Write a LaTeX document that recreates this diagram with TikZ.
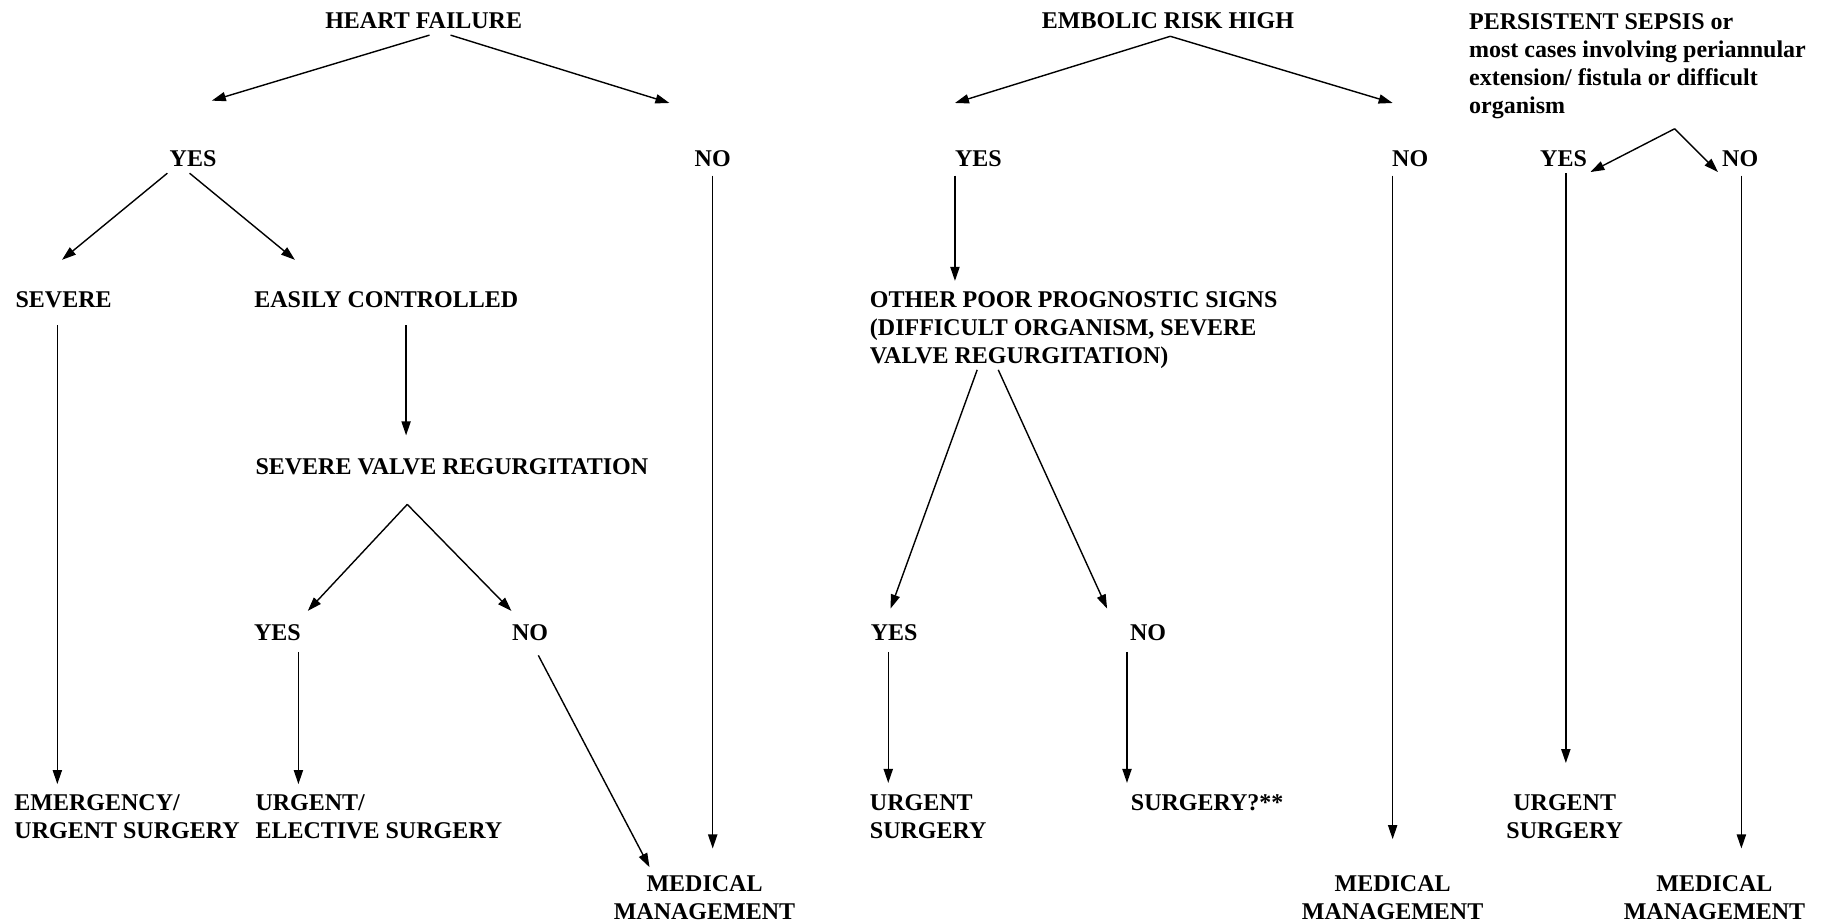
\documentclass[tikz,border=0pt]{standalone}
\usepackage{fontspec}
\setmainfont{Liberation Serif}
\usepackage{tikz}
\usetikzlibrary{
  positioning,
  arrows.meta
}

\tikzset{
  lbl/.style={inner sep=0pt, font=\bfseries\fontsize{12}{14}\selectfont},
  lblL/.style={lbl, anchor=west},
  lblT/.style={lbl, anchor=north west, align=left},
  lblC/.style={lbl, anchor=north, align=center},
  arr/.style={-{Triangle[length=7pt,width=4.6pt]}, line width=0.7pt}
}

\begin{document}
\begin{tikzpicture}[x=0.585pt,y=-0.585pt]
  \useasboundingbox (0,0) rectangle (1568,789);

  % heart failure
  \node[lbl]  (hf)     at (362,18)  {HEART FAILURE};
  \node[lbl]  (hfyes)  at (165,136) {YES};
  \node[lbl]  (hfno)   at (609,136) {NO};
  \node[lblL] (severe) at (13,256)  {SEVERE};
  \node[lblL] (easy)   at (217,256) {EASILY CONTROLLED};
  \node[lblL] (svr)    at (218,399) {SEVERE VALVE REGURGITATION};
  \node[lbl]  (svryes) at (237,541) {YES};
  \node[lbl]  (svrno)  at (453,541) {NO};
  \node[lblT] (emerg)  at (12,679)  {EMERGENCY/\\URGENT SURGERY};
  \node[lblT] (elect)  at (218,679) {URGENT/\\ELECTIVE SURGERY};
  \node[lblC] (med1)   at (602,748) {MEDICAL\\MANAGEMENT};

  % embolic risk
  \node[lbl]  (emb)    at (998,18)   {EMBOLIC RISK HIGH};
  \node[lbl]  (embyes) at (836,136)  {YES};
  \node[lbl]  (embno)  at (1205,136) {NO};
  \node[lblT] (poor)   at (743,249)  {OTHER POOR PROGNOSTIC SIGNS\\(DIFFICULT ORGANISM, SEVERE\\VALVE REGURGITATION)};
  \node[lbl]  (poyes)  at (764,541)  {YES};
  \node[lbl]  (pono)   at (981,541)  {NO};
  \node[lblT] (urg1)   at (743,679)  {URGENT\\SURGERY};
  \node[lblL] (surgq)  at (966,686)  {SURGERY?**};
  \node[lblC] (med2)   at (1190,748) {MEDICAL\\MANAGEMENT};

  % sepsis
  \node[lblT] (sep)    at (1255,11)  {PERSISTENT SEPSIS or\\most cases involving periannular\\extension/ fistula or difficult\\organism};
  \node[lbl]  (sepyes) at (1336,136) {YES};
  \node[lbl]  (sepno)  at (1487,136) {NO};
  \node[lblC] (urg2)   at (1337,679) {URGENT\\SURGERY};
  \node[lblC] (med3)   at (1465,748) {MEDICAL\\MANAGEMENT};

  % arrow ends
  \coordinate (hf-a) at (367,30);      \coordinate (hfyes-t) at (181,86);
  \coordinate (hf-b) at (385,30);      \coordinate (hfno-t) at (572,88);
  \coordinate (hfyes-a) at (143,148);  \coordinate (severe-t) at (53,222);
  \coordinate (hfyes-b) at (162,148);  \coordinate (easy-t) at (252,222);
  \coordinate (severe-a) at (49,278);  \coordinate (emerg-t) at (49,670);
  \coordinate (easy-a) at (347,278);   \coordinate (svr-t) at (347,372);
  \coordinate (svr-a) at (348,431);    \coordinate (svryes-t) at (263,522);
                                       \coordinate (svrno-t) at (437,522);
  \coordinate (svryes-a) at (255,557); \coordinate (elect-t) at (255,670);
  \coordinate (svrno-a) at (460,560);  \coordinate (med1-t) at (555,741);
  \coordinate (hfno-a) at (609,150);   \coordinate (med1-u) at (609,725);

  \coordinate (emb-a) at (1000,31);    \coordinate (embyes-t) at (816,88);
                                       \coordinate (embno-t) at (1190,88);
  \coordinate (embyes-a) at (816,150); \coordinate (poor-t) at (816,240);
  \coordinate (poor-a) at (835,316);   \coordinate (poyes-t) at (761,520);
  \coordinate (poor-b) at (853,316);   \coordinate (pono-t) at (946,520);
  \coordinate (poyes-a) at (759,557);  \coordinate (urg1-t) at (759,669);
  \coordinate (pono-a) at (963,557);   \coordinate (surgq-t) at (963,669);
  \coordinate (embno-a) at (1190,150); \coordinate (med2-t) at (1190,717);

  \coordinate (sep-a) at (1431,110);   \coordinate (sepyes-t) at (1359,147);
                                       \coordinate (sepno-t) at (1468,147);
  \coordinate (sepyes-a) at (1338,148); \coordinate (urg2-t) at (1338,652);
  \coordinate (sepno-a) at (1488,150); \coordinate (med3-t) at (1488,725);

  \foreach \a/\b in {hf-a/hfyes-t, hf-b/hfno-t, hfyes-a/severe-t, hfyes-b/easy-t,
      severe-a/emerg-t, easy-a/svr-t, svr-a/svryes-t, svr-a/svrno-t,
      svryes-a/elect-t, svrno-a/med1-t, hfno-a/med1-u,
      emb-a/embyes-t, emb-a/embno-t, embyes-a/poor-t, poor-a/poyes-t,
      poor-b/pono-t, poyes-a/urg1-t, pono-a/surgq-t, embno-a/med2-t,
      sep-a/sepyes-t, sep-a/sepno-t, sepyes-a/urg2-t, sepno-a/med3-t}
    \draw[arr] (\a) -- (\b);
\end{tikzpicture}
\end{document}
